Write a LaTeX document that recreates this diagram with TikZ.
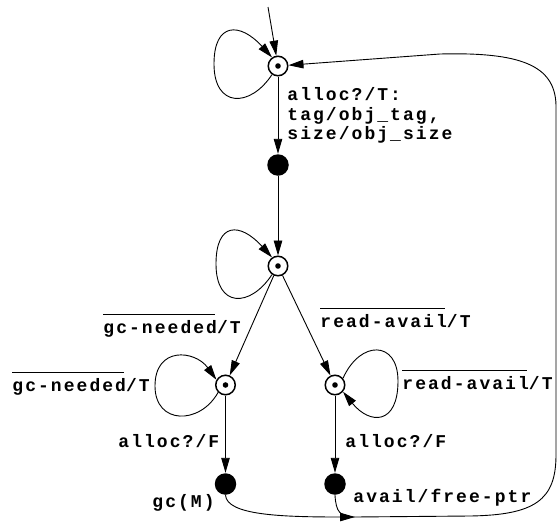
\documentclass[tikz,border=0pt]{standalone}
\usepackage{fontspec}
\usetikzlibrary{arrows.meta}
\newfontfamily\lblfont{Liberation Mono}[LetterSpace=11.4]
\newcommand\ovl[1]{\setbox0\hbox{#1}\rlap{\rule[18.5pt]{\dimexpr\wd0-2pt\relax}{0.8pt}}\box0}
\begin{document}
\begin{tikzpicture}[x=1pt,y=-1pt,
  >={Triangle[length=15pt,width=8.5pt]}, line width=0.9pt,
  state/.style={circle,draw,line width=1.5pt,minimum size=19.5pt,inner sep=0pt,
    path picture={\fill (path picture bounding box.center) circle (2.8pt);}},
  dot/.style={circle,fill,minimum size=21.5pt,inner sep=0pt},
  lbl/.style={font=\lblfont\bfseries\fontsize{18}{19.5}\selectfont,inner sep=0pt,anchor=base west}]
\useasboundingbox (0,0) rectangle (558,523);
% states
\node[state] (s1) at (278,66) {};
\node[dot] (b1) at (278,165) {};
\node[state] (s2) at (278,266) {};
\node[state] (s3) at (225.5,385) {};
\node[state] (s4) at (335,385) {};
\node[dot] (b3) at (225.5,484) {};
\node[dot] (b4) at (335,484) {};
\coordinate (init) at (268,7);
\coordinate (m) at (355,517);
% edges
\draw[->] (init) -- (s1);
\draw[->] (s1) -- (b1);
\draw[->] (b1) -- (s2);
\draw[->] (s2) -- (s3);
\draw[->] (s2) -- (s4);
\draw[->] (s3) -- (b3);
\draw[->] (s4) -- (b4);
% loops
\draw[->] (s1.235) .. controls (250,108) and (214,108) .. (214,64) .. controls (214,22) and (240,22) .. (s1.125);
\draw[->] (s2.235) .. controls (250,308) and (216,308) .. (216,264) .. controls (216,222) and (240,222) .. (s2.125);
\draw[->] (s3.225) .. controls (200,425) and (155,425) .. (155,386) .. controls (155,346) and (195,350) .. (s3.150);
\draw[->] (s4.40) .. controls (360,340) and (398,340) .. (398,381) .. controls (398,425) and (370,425) .. (s4.-40);
% return paths
\draw[->] (b3.south) .. controls (227,515) and (280,517) .. (m);
\draw[->] (b4.south) .. controls (336,512) and (340,517) .. (m) -- (470,516)
  .. controls (535,515) and (556,500) .. (556,455) -- (556,105)
  .. controls (555,65) and (520,52) .. (440,54) -- (s1);
% labels
\node[lbl] (l1a) at (287,100.5) {alloc?/T:};
\node[lbl] (l1b) at (287,120) {tag/obj\_tag,};
\node[lbl] (l1c) at (287,139.5) {size/obj\_size};
\node[lbl] (l2) at (103,333) {\ovl{gc-needed}/T};
\node[lbl] (l3) at (320,327) {\ovl{read-avail}/T};
\node[lbl] (l4) at (12,391) {\ovl{gc-needed}/T};
\node[lbl] (l5) at (402,389) {\ovl{read-avail}/T};
\node[lbl] (l6) at (118,447) {alloc?/F};
\node[lbl] (l7) at (345,447) {alloc?/F};
\node[lbl] (l8) at (152,507) {gc(M)};
\node[lbl] (l9) at (353,502) {avail/free-ptr};
\end{tikzpicture}
\end{document}
